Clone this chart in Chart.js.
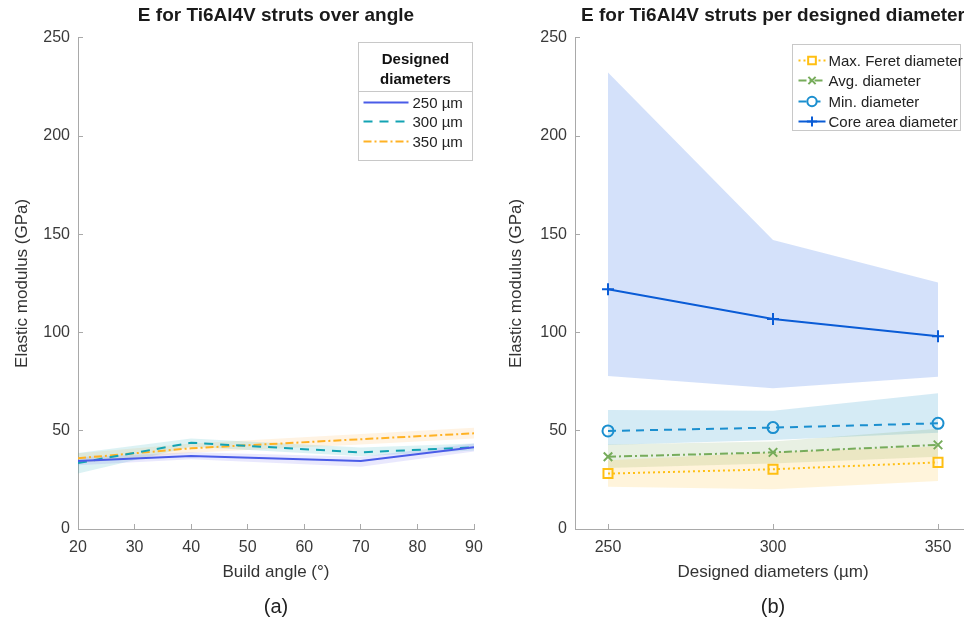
<!DOCTYPE html>
<html>
<head>
<meta charset="utf-8">
<script src="https://cdn.jsdelivr.net/npm/chart.js@4.4.1/dist/chart.umd.min.js"></script>
<style>
  html, body { margin: 0; padding: 0; background: #fff; width: 964px; height: 626px; overflow: hidden; }
  #wrap { position: relative; width: 964px; height: 626px; overflow: hidden; }
  canvas { position: absolute; top: 0; }
  #chartAngle { left: 0; }
  #chartDiam { left: 482px; }
</style>
</head>
<body>
<div id="wrap">
  <canvas id="chartAngle" width="484" height="626"></canvas>
  <canvas id="chartDiam" width="500" height="626"></canvas>
</div>
<script>
// ---- (a) Elastic modulus over build angle, one series per designed diameter ----
const buildAngles = [20, 40, 70, 90];
const angleTicks = [20, 30, 40, 50, 60, 70, 80, 90];
const modulusTicks = [0, 50, 100, 150, 200, 250];

const e250 = [34.6, 37.2, 34.6, 41.6];
const e250Lo = [32.5, 35.5, 31.7, 39.5];
const e250Hi = [36.5, 39.0, 36.8, 43.5];

const e300 = [33.6, 43.9, 39.0, 41.6];
const e300Lo = [28.3, 41.8, 37.0, 40.0];
const e300Hi = [38.7, 46.0, 41.5, 43.5];

const e350 = [36.0, 41.1, 45.7, 48.7];
const e350Lo = [33.5, 38.8, 43.0, 46.0];
const e350Hi = [38.5, 43.5, 48.3, 51.5];

// ---- (b) Elastic modulus per designed diameter, one series per diameter definition ----
const diameters = [250, 300, 350];

const eFeret = [28.2, 30.4, 33.9];
const eFeretLo = [21.5, 20.2, 24.4];
const eFeretHi = [35.0, 39.0, 42.0];

const eAvg = [36.8, 39.0, 42.8];
const eAvgLo = [31.0, 33.4, 36.8];
const eAvgHi = [43.0, 44.5, 51.0];

const eMin = [49.9, 51.6, 53.8];
const eMinLo = [42.8, 45.3, 49.0];
const eMinHi = [60.6, 60.2, 69.1];

const eCore = [122.0, 106.9, 98.1];
const eCoreLo = [77.9, 71.6, 77.5];
const eCoreHi = [232.3, 147.1, 125.4];

Chart.defaults.font.family = "'Liberation Sans', Arial, Helvetica, sans-serif";
Chart.defaults.color = '#3a3a3a';

const pts = (xs, ys) => xs.map((x, i) => ({ x: x, y: ys[i] }));

// Mean line plus a shaded band between lower and upper bounds
function series(label, xs, ys, lo, hi, style) {
  return [
    { data: pts(xs, hi), borderWidth: 0, pointRadius: 0, fill: false, order: 2 },
    { data: pts(xs, lo), borderWidth: 0, pointRadius: 0, fill: '-1', backgroundColor: style.band, order: 2 },
    {
      label: label, inLegend: true, data: pts(xs, ys),
      borderColor: style.color, borderWidth: style.width || 2, borderDash: style.dash || [],
      pointStyle: style.marker || false, pointRadius: style.marker ? style.radius : 0,
      pointBorderColor: style.color, pointBackgroundColor: 'rgba(0,0,0,0)', pointBorderWidth: 2,
      fill: false, tension: 0, order: 1
    }
  ];
}

function drawMarker(ctx, style, r, x, y) {
  ctx.beginPath();
  if (style === 'rect') { const s = r * Math.SQRT1_2; ctx.rect(x - s, y - s, 2 * s, 2 * s); }
  else if (style === 'circle') { ctx.arc(x, y, r, 0, 2 * Math.PI); }
  else if (style === 'cross') { ctx.moveTo(x, y - r); ctx.lineTo(x, y + r); ctx.moveTo(x - r, y); ctx.lineTo(x + r, y); }
  else if (style === 'crossRot') {
    const s = r * Math.SQRT1_2;
    ctx.moveTo(x - s, y - s); ctx.lineTo(x + s, y + s); ctx.moveTo(x - s, y + s); ctx.lineTo(x + s, y - s);
  }
  ctx.fillStyle = '#fff';
  if (style === 'rect' || style === 'circle') ctx.fill();
  ctx.stroke();
}

// Framed legend drawn inside the plot area (top-right corner)
const boxLegend = {
  id: 'boxLegend',
  afterDraw(chart, args, o) {
    const ctx = chart.ctx, a = chart.chartArea;
    const x0 = Math.round(a.right - o.right - o.width) + 0.5, y0 = Math.round(a.top + o.top) + 0.5;
    ctx.save();
    ctx.fillStyle = '#fff';
    ctx.fillRect(x0, y0, o.width, o.height);
    ctx.strokeStyle = '#c8c8c8'; ctx.lineWidth = 1; ctx.setLineDash([]);
    ctx.strokeRect(x0, y0, o.width, o.height);
    if (o.title) {
      ctx.fillStyle = '#111'; ctx.font = "bold 15px 'Liberation Sans', Arial, sans-serif";
      ctx.textAlign = 'center'; ctx.textBaseline = 'middle';
      o.title.forEach((t, i) => ctx.fillText(t, x0 + o.width / 2, y0 + o.titleY[i]));
      ctx.beginPath(); ctx.moveTo(x0, y0 + o.sepY); ctx.lineTo(x0 + o.width, y0 + o.sepY); ctx.stroke();
    }
    const items = chart.data.datasets.filter(d => d.inLegend);
    items.forEach((d, i) => {
      const y = y0 + o.itemY[i];
      ctx.strokeStyle = d.borderColor; ctx.lineWidth = d.borderWidth;
      ctx.setLineDash(d.borderDash || []);
      ctx.beginPath(); ctx.moveTo(x0 + o.lineX[0], y); ctx.lineTo(x0 + o.lineX[1], y); ctx.stroke();
      if (d.pointStyle) {
        ctx.setLineDash([]); ctx.lineWidth = 2;
        drawMarker(ctx, d.pointStyle, d.pointRadius * 0.85, x0 + (o.lineX[0] + o.lineX[1]) / 2, y);
      }
      ctx.fillStyle = '#222'; ctx.font = "15px 'Liberation Sans', Arial, sans-serif";
      ctx.textAlign = 'left'; ctx.textBaseline = 'middle';
      ctx.fillText(d.label, x0 + o.textX, y + 1);
    });
    ctx.restore();
  }
};

const axisGrey = '#a9a9a9';
const tickFont = { size: 16 };
const fixedTicks = values => (s => { s.ticks = values.map(v => ({ value: v })); });

function xAxis(min, max, tickValues, label) {
  return {
    type: 'linear', min: min, max: max,
    afterBuildTicks: fixedTicks(tickValues),
    ticks: { font: tickFont, color: '#3a3a3a', padding: 14, maxRotation: 0, autoSkip: false },
    grid: { drawOnChartArea: false, tickLength: -5, color: axisGrey },
    border: { display: true, color: axisGrey, width: 1 },
    title: { display: true, text: label, font: { size: 17 }, color: '#333', padding: { top: 0, bottom: 8 } },
    afterFit: s => { s.height = 62; s.paddingLeft = 0; s.paddingRight = 0; }
  };
}

function yAxis(width, titlePad) {
  return {
    min: 0, max: 250,
    afterBuildTicks: fixedTicks(modulusTicks),
    ticks: { font: tickFont, color: '#3a3a3a', padding: 13 },
    grid: { drawOnChartArea: false, tickLength: -5, color: axisGrey },
    border: { display: true, color: axisGrey, width: 1 },
    title: { display: true, text: 'Elastic modulus (GPa)', font: { size: 17 }, color: '#333', padding: { top: titlePad, bottom: 0 } },
    afterFit: s => { s.width = width; s.paddingTop = 0; s.paddingBottom = 0; }
  };
}

function baseOptions(title, tag, padRight, xScale, yScale, legend) {
  return {
    responsive: false, animation: false, events: [],
    layout: { padding: { left: 0, right: padRight, top: 0, bottom: 0 } },
    scales: { x: xScale, y: yScale },
    plugins: {
      legend: { display: false },
      tooltip: { enabled: false },
      title: { display: true, text: title, fullSize: false, font: { size: 19, weight: 'bold' }, color: '#1a1a1a', padding: { top: 4, bottom: 11 } },
      subtitle: { display: true, text: tag, position: 'bottom', fullSize: false, font: { size: 20 }, color: '#222', padding: { top: 4, bottom: 7 } },
      boxLegend: legend
    }
  };
}

new Chart(document.getElementById('chartAngle'), {
  type: 'line',
  data: {
    datasets: [
      ...series('250 µm', buildAngles, e250, e250Lo, e250Hi, { color: '#4a5ce8', band: 'rgba(110,100,240,0.15)' }),
      ...series('300 µm', buildAngles, e300, e300Lo, e300Hi, { color: '#13a3b3', band: 'rgba(20,170,180,0.15)', dash: [9, 7] }),
      ...series('350 µm', buildAngles, e350, e350Lo, e350Hi, { color: '#ffb224', band: 'rgba(255,175,70,0.15)', dash: [8, 3, 2, 3] })
    ]
  },
  options: baseOptions('E for Ti6Al4V struts over angle', '(a)', 10,
    xAxis(20, 90, angleTicks, 'Build angle (°)'),
    yAxis(78, 12),
    { right: 2, top: 4, width: 114, height: 118, title: ['Designed', 'diameters'], titleY: [17, 37], sepY: 49,
      itemY: [60, 79, 99], lineX: [5, 50], textX: 54 }),
  plugins: [boxLegend]
});

new Chart(document.getElementById('chartDiam'), {
  type: 'line',
  data: {
    datasets: [
      ...series('Max. Feret diameter', diameters, eFeret, eFeretLo, eFeretHi, { color: '#ffbf12', band: 'rgba(255,190,40,0.17)', dash: [2, 3], marker: 'rect', radius: 6.4 }),
      ...series('Avg. diameter', diameters, eAvg, eAvgLo, eAvgHi, { color: '#77ac5b', band: 'rgba(110,160,80,0.16)', dash: [8, 3, 2, 3], marker: 'crossRot', radius: 6 }),
      ...series('Min. diameter', diameters, eMin, eMinLo, eMinHi, { color: '#1b8fcf', band: 'rgba(30,150,200,0.19)', dash: [8, 6], marker: 'circle', radius: 5.5 }),
      ...series('Core area diameter', diameters, eCore, eCoreLo, eCoreHi, { color: '#0a5cd6', band: 'rgba(60,120,230,0.22)', marker: 'cross', radius: 6 })
    ]
  },
  options: baseOptions('E for Ti6Al4V struts per designed diameter', '(b)', 11,
    xAxis(240, 360, diameters, 'Designed diameters (µm)'),
    yAxis(93, 24),
    { right: 11, top: 6, width: 168, height: 86, itemY: [16, 36, 57, 77], lineX: [6, 33], textX: 36 }),
  plugins: [boxLegend]
});
</script>
</body>
</html>
